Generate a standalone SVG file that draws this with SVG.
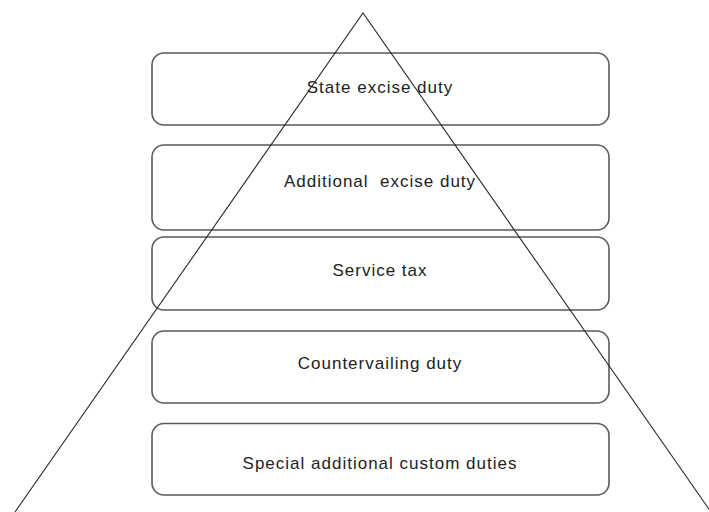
<svg xmlns="http://www.w3.org/2000/svg" width="709" height="512" viewBox="0 0 709 512">
<style>
.box{fill:none;stroke:#5a5a5a;stroke-width:1.6}
.lbl{font-family:"Liberation Sans",Arial,sans-serif;font-size:17px;letter-spacing:1px;fill:#222;text-anchor:middle}
.edge{fill:none;stroke:#2a2a2a;stroke-width:1.1}
</style>
<rect width="709" height="512" fill="#fff"/>
<g id="n1"><rect class="box" x="152" y="53" width="457" height="72" rx="12"/><text class="lbl" x="380" y="93">State excise duty</text></g>
<g id="n2"><rect class="box" x="152" y="145" width="457" height="85" rx="12"/><text class="lbl" x="380" y="187" xml:space="preserve">Additional  excise duty</text></g>
<g id="n3"><rect class="box" x="152" y="237" width="457" height="73" rx="12"/><text class="lbl" x="380" y="276">Service tax</text></g>
<g id="n4"><rect class="box" x="152" y="331" width="457" height="72" rx="12"/><text class="lbl" x="380" y="369">Countervailing duty</text></g>
<g id="n5"><rect class="box" x="152" y="423.5" width="457" height="71.5" rx="12"/><text class="lbl" x="380" y="469">Special additional custom duties</text></g>
<g id="connectors"><polyline class="edge" points="15,512 363,13 711,512"/></g>
</svg>
